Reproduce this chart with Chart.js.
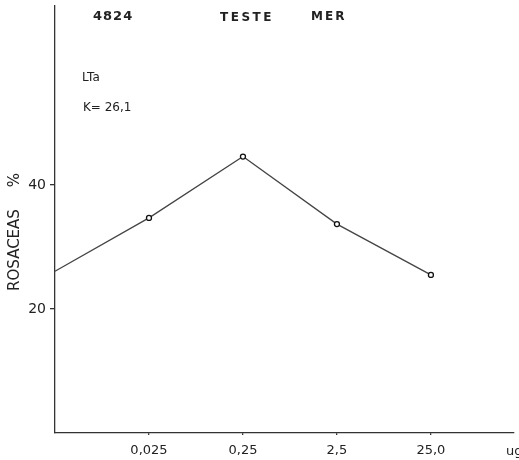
<!DOCTYPE html>
<html>
<head>
<meta charset="utf-8">
<script src="https://cdn.jsdelivr.net/npm/chart.js@4"></script>
<style>
  html, body { margin: 0; padding: 0; background: #fff; }
  #wrap { width: 519px; height: 460px; position: relative; }
</style>
</head>
<body>
<div id="wrap"><canvas id="c" width="519" height="460"></canvas></div>
<script>
// Data
const doses = [0.0025, 0.025, 0.25, 2.5, 25];          // ug (first = control, at axis start)
const rosaceas = [26.1, 34.7, 44.6, 33.7, 25.5];       // %
const xTickValues = [0.025, 0.25, 2.5, 25];
const xTickLabels = ['0,025', '0,25', '2,5', '25,0'];
const yTickValues = [20, 40];
const yTickLabels = ['20', '40'];
const pointSizes = [0, 2.5, 2.5, 2.5, 2.5];

const FONT = '"DejaVu Sans", "Liberation Sans", sans-serif';
const INK = '#222';

const textPlugin = {
  id: 'texts',
  afterDraw(chart) {
    const ctx = chart.ctx;
    ctx.save();
    ctx.fillStyle = INK;
    ctx.textBaseline = 'middle';
    ctx.textAlign = 'left';
    ctx.font = 'bold 13px ' + FONT;
    ctx.letterSpacing = '1px';
    ctx.fillText('4824', 93, 17);
    ctx.font = 'bold 12px ' + FONT;
    ctx.letterSpacing = '2.5px';
    ctx.fillText('TESTE', 220, 18);
    ctx.letterSpacing = '2px';
    ctx.fillText('MER', 311, 17);
    ctx.letterSpacing = '0px';
    ctx.font = '12px ' + FONT;
    ctx.fillText('LTa', 82, 78);
    ctx.fillText('K= 26,1', 83, 108);
    ctx.font = '13px ' + FONT;
    ctx.fillText('ug', 506, 452);
    // y axis title
    ctx.translate(15, 0);
    ctx.rotate(-Math.PI / 2);
    ctx.textAlign = 'center';
    ctx.font = '15px ' + FONT;
    ctx.fillText('ROSACEAS', -250, 0);
    ctx.fillText('%', -180, 0);
    ctx.restore();
  }
};

new Chart(document.getElementById('c'), {
  type: 'line',
  data: {
    datasets: [{
      data: doses.map((d, i) => ({ x: d, y: rosaceas[i] })),
      borderColor: '#444',
      borderWidth: 1.3,
      pointRadius: pointSizes,
      pointBorderColor: '#111',
      pointBackgroundColor: '#fff',
      pointBorderWidth: 1.3,
      tension: 0,
      clip: false
    }]
  },
  options: {
    responsive: false,
    animation: false,
    devicePixelRatio: 1,
    layout: { padding: { top: 5, right: 0, left: 0, bottom: 0 } },
    plugins: { legend: { display: false }, tooltip: { enabled: false }, title: { display: false } },
    scales: {
      x: {
        type: 'logarithmic',
        min: 0.0025,
        max: 190,
        afterFit(s) { s.height = 27; s.paddingLeft = 0; s.paddingRight = 0; },
        afterBuildTicks(s) { s.ticks = xTickValues.map(v => ({ value: v })); },
        border: { display: true, color: '#333', width: 1.3 },
        grid: { display: true, drawOnChartArea: false, drawTicks: true, tickLength: 2, color: '#333', lineWidth: 1.3 },
        ticks: {
          autoSkip: false, maxRotation: 0, padding: 8,
          color: INK, font: { family: FONT, size: 13 },
          callback(v) { const i = xTickValues.indexOf(v); return i >= 0 ? xTickLabels[i] : ''; }
        }
      },
      y: {
        type: 'linear',
        min: 0,
        max: 69,
        afterFit(s) { s.width = 55; s.paddingTop = 0; s.paddingBottom = 0; },
        afterBuildTicks(s) { s.ticks = yTickValues.map(v => ({ value: v })); },
        border: { display: true, color: '#333', width: 1.3 },
        grid: { display: true, drawOnChartArea: false, drawTicks: true, tickLength: 5, color: '#333', lineWidth: 1.3 },
        ticks: {
          padding: 4,
          color: INK, font: { family: FONT, size: 14 },
          callback(v) { const i = yTickValues.indexOf(v); return i >= 0 ? yTickLabels[i] : ''; }
        }
      }
    }
  },
  plugins: [textPlugin]
});
</script>
</body>
</html>
